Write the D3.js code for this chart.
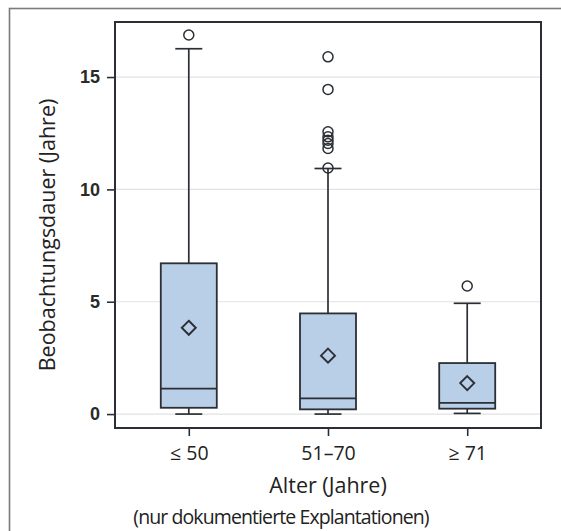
<!DOCTYPE html>
<html>
<head>
<meta charset="utf-8">
<script src="https://cdn.jsdelivr.net/npm/d3@7/dist/d3.min.js"></script>
<style>
  html, body { margin: 0; padding: 0; background: #fff; }
  svg { display: block; }
</style>
</head>
<body>
<svg id="chart" width="561" height="531"></svg>
<script>
// ---- data ----
const categories = ["≤ 50", "51–70", "≥ 71"];
const q1 = [0.28, 0.21, 0.24];
const median = [1.13, 0.70, 0.50];
const q3 = [6.71, 4.48, 2.27];
const mean = [3.84, 2.60, 1.38];
const whiskerLow = [0.0, 0.0, 0.03];
const whiskerHigh = [16.26, 10.93, 4.93];
const outliers = [
  [16.87],
  [15.90, 14.45, 12.56, 12.34, 12.19, 12.04, 11.82, 10.95],
  [5.70]
];
const yTicks = [0, 5, 10, 15];
const yTitle = "Beobachtungsdauer (Jahre)";
const xTitle = "Alter (Jahre)";
const footnote = "(nur dokumentierte Explantationen)";

// ---- layout ----
const L = 115, R = 541, T = 22, B = 428;
const svg = d3.select("#chart");
const dark = "#2b2f35";
const textFont = "'Open Sans', 'Noto Sans', sans-serif";

const x = d3.scalePoint().domain(categories).range([L, R]).padding(0.53);
const y = d3.scaleLinear().domain([-0.62, 17.45]).range([B, T]);

// outer frame (cut off at right/bottom)
svg.append("rect")
  .attr("x", 9.5).attr("y", 8.5).attr("width", 700).attr("height", 700)
  .attr("fill", "none").attr("stroke", "#7a7a7a").attr("stroke-width", 1.6);

// gridlines
svg.append("g").selectAll("line").data(yTicks).join("line")
  .attr("x1", L).attr("x2", R)
  .attr("y1", d => y(d)).attr("y2", d => y(d))
  .attr("stroke", "#e2e2e2").attr("stroke-width", 1.2);

const bw = 56, capW = 27;
const groups = svg.append("g").selectAll("g").data(categories).join("g");

groups.each(function(c, i) {
  const g = d3.select(this);
  const cx = x(c);
  // whiskers
  g.append("line").attr("x1", cx).attr("x2", cx)
    .attr("y1", y(q3[i])).attr("y2", y(whiskerHigh[i]))
    .attr("stroke", dark).attr("stroke-width", 1.7);
  g.append("line").attr("x1", cx).attr("x2", cx)
    .attr("y1", y(q1[i])).attr("y2", y(whiskerLow[i]))
    .attr("stroke", dark).attr("stroke-width", 1.7);
  [whiskerHigh[i], whiskerLow[i]].forEach(v => {
    g.append("line").attr("x1", cx - capW / 2).attr("x2", cx + capW / 2)
      .attr("y1", y(v)).attr("y2", y(v))
      .attr("stroke", dark).attr("stroke-width", 1.7);
  });
  // box
  g.append("rect")
    .attr("x", cx - bw / 2).attr("width", bw)
    .attr("y", y(q3[i])).attr("height", y(q1[i]) - y(q3[i]))
    .attr("fill", "#b9cee7").attr("stroke", dark).attr("stroke-width", 1.8);
  // median
  g.append("line").attr("x1", cx - bw / 2).attr("x2", cx + bw / 2)
    .attr("y1", y(median[i])).attr("y2", y(median[i]))
    .attr("stroke", dark).attr("stroke-width", 1.8);
  // mean diamond
  const my = y(mean[i]), s = 7;
  g.append("path")
    .attr("d", `M${cx},${my - s}L${cx + s},${my}L${cx},${my + s}L${cx - s},${my}Z`)
    .attr("fill", "none").attr("stroke", dark).attr("stroke-width", 1.9);
  // outliers
  g.selectAll("circle").data(outliers[i]).join("circle")
    .attr("cx", cx).attr("cy", d => y(d)).attr("r", 5)
    .attr("fill", "none").attr("stroke", dark).attr("stroke-width", 1.5);
});

// axes
const yAxis = svg.append("g").attr("transform", `translate(${L},0)`)
  .call(d3.axisLeft(y).tickValues(yTicks).tickSize(8).tickPadding(7).tickSizeOuter(0));
yAxis.select(".domain").remove();
yAxis.selectAll("line").attr("stroke", dark).attr("stroke-width", 1.6);
yAxis.selectAll("text")
  .attr("font-family", "'Liberation Sans', Arial, sans-serif")
  .attr("font-weight", "bold").attr("font-size", 18).attr("fill", "#2a2a2a");

const xAxis = svg.append("g").attr("transform", `translate(0,${B})`)
  .call(d3.axisBottom(x).tickSize(8).tickPadding(5).tickSizeOuter(0));
xAxis.select(".domain").remove();
xAxis.selectAll("line").attr("stroke", dark).attr("stroke-width", 1.6);
xAxis.selectAll("text")
  .attr("font-family", textFont).attr("font-size", 19.5).attr("fill", "#222")
  .attr("dy", null).attr("y", 32);

// plot frame
svg.append("rect")
  .attr("x", L).attr("y", T).attr("width", R - L).attr("height", B - T)
  .attr("fill", "none").attr("stroke", dark).attr("stroke-width", 2);

// titles
svg.append("text")
  .attr("transform", `translate(55,${(93 + 377) / 2}) rotate(-90)`)
  .attr("text-anchor", "middle")
  .attr("font-family", textFont).attr("font-size", 21.5).attr("fill", "#222")
  .text(yTitle);

svg.append("text")
  .attr("x", (L + R) / 2).attr("y", 493)
  .attr("text-anchor", "middle")
  .attr("font-family", textFont).attr("font-size", 21.5).attr("fill", "#222")
  .text(xTitle);

svg.append("text")
  .attr("x", 281).attr("y", 524)
  .attr("text-anchor", "middle")
  .attr("font-family", textFont).attr("font-size", 19.5)
  .attr("letter-spacing", "-0.9px").attr("fill", "#222")
  .text(footnote);
</script>
</body>
</html>
